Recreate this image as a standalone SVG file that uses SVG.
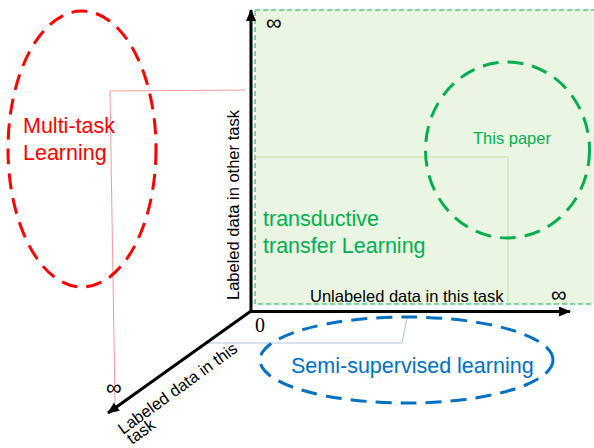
<svg xmlns="http://www.w3.org/2000/svg" width="594" height="448" viewBox="0 0 594 448">
<defs>
<style>
text{font-family:"Liberation Sans",Arial,sans-serif}
.ax{stroke:#000;stroke-width:3;fill:none}
.lbl{font-size:16.5px;fill:#000}
.inf{font-size:22px;fill:#000}
.big{font-size:21.5px}
.zero{font-family:"Liberation Serif","Times New Roman",serif;font-size:20px;fill:#000}
</style>
<marker id="ah" viewBox="0 0 12 10" refX="11" refY="5" markerWidth="12" markerHeight="10" markerUnits="userSpaceOnUse" orient="auto">
<path d="M0,0 L12,5 L0,10 Z" fill="#000"/>
</marker>
</defs>
<g id="transfer-region">
<rect x="255" y="10" width="345" height="294" fill="#ebf5e4" stroke="#00b050" stroke-width="1" stroke-dasharray="5,3"/>
<text x="263" y="226" class="big" fill="#00b050">transductive</text>
<text x="263" y="253" class="big" fill="#00b050">transfer Learning</text>
</g>
<g id="connectors">
<path d="M245,90 L110,91 L115,402" fill="none" stroke="#ef7f7f" stroke-width="0.8"/>
<path d="M255,157 L508,157 L508,306" fill="none" stroke="#b3dc99" stroke-width="0.8"/>
<path d="M203,343 L402,343 L407,318" fill="none" stroke="#9fb4cf" stroke-width="0.8"/>
<line class="ax" x1="251" y1="312" x2="251" y2="10" marker-end="url(#ah)"/>
<line class="ax" x1="250" y1="311.5" x2="570" y2="311.5" marker-end="url(#ah)"/>
<line class="ax" x1="251" y1="311" x2="108" y2="413" marker-end="url(#ah)"/>
</g>
<g id="multitask">
<ellipse cx="82" cy="149" rx="74" ry="138" fill="none" stroke="#ff0000" stroke-width="3" stroke-dasharray="16,9"/>
<text x="23" y="133" class="big" fill="#ff0000">Multi-task</text>
<text x="23" y="160" class="big" fill="#ff0000">Learning</text>
</g>
<g id="this-paper">
<ellipse cx="507.5" cy="150" rx="82" ry="88" fill="none" stroke="#00b050" stroke-width="3" stroke-dasharray="16,9"/>
<text x="473" y="144" font-size="16.5" fill="#00b050">This paper</text>
</g>
<g id="semi-supervised">
<ellipse cx="406.5" cy="360" rx="146.5" ry="43" fill="none" stroke="#0070c0" stroke-width="3" stroke-dasharray="16,9"/>
<text x="291" y="373" class="big" fill="#0070c0">Semi-supervised learning</text>
</g>
<g id="labels">
<text x="310" y="302" class="lbl">Unlabeled data in this task</text>
<text class="lbl" transform="translate(239,300) rotate(-90)">Labeled data in other task</text>
<text class="lbl" transform="translate(123,435) rotate(-36)">Labeled data in this</text>
<text class="lbl" transform="translate(132,445) rotate(-36)">task</text>
<text x="255" y="332" class="zero">0</text>
<text x="266" y="30" class="inf">∞</text>
<text x="551" y="302" class="inf">∞</text>
<text x="106" y="395" class="inf">∞</text>
</g>
</svg>
